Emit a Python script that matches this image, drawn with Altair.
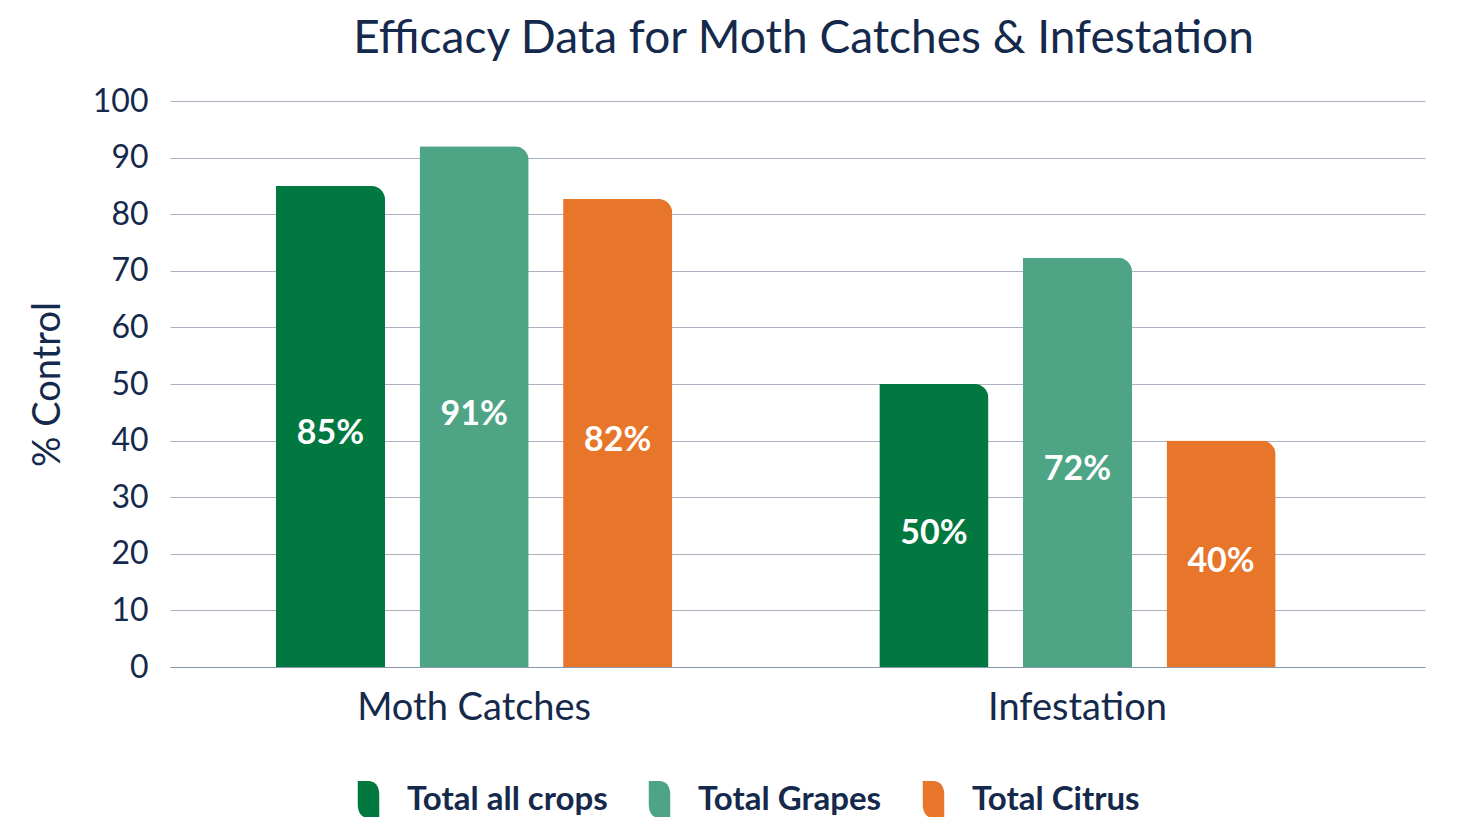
import altair as alt
import pandas as pd

groups = ["Moth Catches", "Infestation"]
series = ["Total all crops", "Total Grapes", "Total Citrus"]
values_moth = [85, 92, 82.7]
values_inf = [50, 72.3, 40]
labels_moth = ["85%", "91%", "82%"]
labels_inf = ["50%", "72%", "40%"]
colors = ["#00783f", "#4ea585", "#e8762a"]
y_ticks = [0, 10, 20, 30, 40, 50, 60, 70, 80, 90, 100]

rows = []
for g, vals, labs in [(groups[0], values_moth, labels_moth), (groups[1], values_inf, labels_inf)]:
    for s, v, l in zip(series, vals, labs):
        rows.append({"group": g, "series": s, "value": v, "label": l, "mid": v / 2})
df = pd.DataFrame(rows)

NAVY = "#15294c"
FONT = "Lato"

x_enc = alt.X("group:N", sort=groups,
              scale=alt.Scale(domain=groups, paddingInner=0, paddingOuter=0.04, align=0.05),
              axis=alt.Axis(title=None, labelAngle=0, labelFontSize=38, labelColor=NAVY,
                            labelFont=FONT, labelPadding=22, labelLimit=600,
                            domain=True, domainColor="#8a97a8",
                            domainWidth=1.2, ticks=False, grid=False))
xoff_enc = alt.XOffset("series:N", sort=series,
                       scale=alt.Scale(domain=series, paddingInner=0.24, paddingOuter=0.721))

leaf = "M-0.58,-1 H0 C0.35,-1 0.58,-0.72 0.58,-0.28 V1 H0 C-0.35,1 -0.58,0.72 -0.58,0.28 Z"

bars = alt.Chart(df).mark_bar(cornerRadiusTopRight=14).encode(
    x=x_enc,
    xOffset=xoff_enc,
    y=alt.Y("value:Q", scale=alt.Scale(domain=[0, 100], nice=False),
            axis=alt.Axis(values=y_ticks, title="% Control", titleFontSize=38,
                          titleFont=FONT, titleColor=NAVY, titleFontWeight="normal",
                          titleX=-122, titleY=283, titleAngle=-90, titleBaseline="middle",
                          titleAlign="center",
                          labelFontSize=32, labelColor=NAVY, labelFont=FONT, labelPadding=22,
                          domain=False, ticks=False, grid=True, gridColor="#a9b2be",
                          gridWidth=1)),
    color=alt.Color("series:N", sort=series,
                    scale=alt.Scale(domain=series, range=colors),
                    legend=alt.Legend(title=None, orient="none", legendX=180, legendY=680,
                                      direction="horizontal", columns=3, gridAlign="none",
                                      symbolType=leaf, symbolSize=1369, symbolStrokeWidth=0,
                                      symbolOpacity=1, labelLimit=600,
                                      labelFont=FONT, labelFontSize=33, labelFontWeight="bold",
                                      labelColor=NAVY, labelOffset=20, columnPadding=33,
                                      padding=0)),
)

texts = alt.Chart(df).mark_text(color="white", fontSize=34, fontWeight="bold", font=FONT,
                                baseline="middle", dy=8).encode(
    x=alt.X("group:N", sort=groups),
    xOffset=alt.XOffset("series:N", sort=series),
    y=alt.Y("mid:Q"),
    text="label:N",
)

chart = alt.layer(bars, texts).properties(
    width=1255, height=566,
    title=alt.TitleParams("Efficacy Data for Moth Catches & Infestation", fontSize=46,
                          font=FONT, fontWeight="normal", color=NAVY, anchor="middle",
                          offset=22, dx=6),
    autosize=alt.AutoSizeParams(type="none"),
    padding={"left": 162, "top": 93, "right": 25, "bottom": 150},
).configure_view(stroke=None)

chart.save("out.html", embed_options={"renderer": "svg", "actions": False})
